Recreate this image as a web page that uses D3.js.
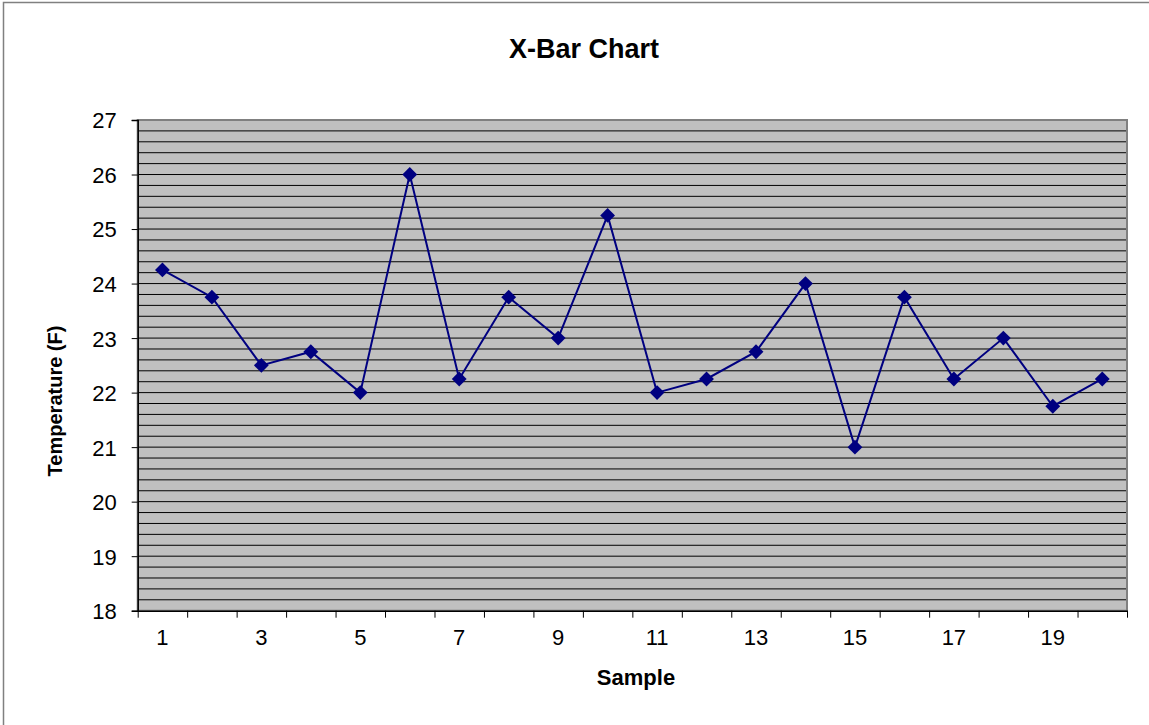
<!DOCTYPE html>
<html>
<head>
<meta charset="utf-8">
<script src="https://cdn.jsdelivr.net/npm/d3@7"></script>
<style>
  body { margin: 0; background: #fff; }
  svg { display: block; font-family: "Liberation Sans", Arial, sans-serif; }
</style>
</head>
<body>
<div id="chart"></div>
<script>
// #region Data
const samples = d3.range(1, 21);
const xbar = [24.25, 23.75, 22.5, 22.75, 22, 26, 22.25, 23.75, 23, 25.25,
  22, 22.25, 22.75, 24, 21, 23.75, 22.25, 23, 21.75, 22.25];
const yTicks = [18, 19, 20, 21, 22, 23, 24, 25, 26, 27];
const xLabels = [1, 3, 5, 7, 9, 11, 13, 15, 17, 19];
// #endregion

const width = 1149;
const height = 725;
const plot = { left: 137.7, right: 1127, top: 120, bottom: 610.7 };

const svg = d3.select('#chart').append('svg')
  .attr('width', width)
  .attr('height', height);

// outer frame (only top/left show inside the window)
svg.append('rect')
  .attr('x', 3.5).attr('y', 2.5)
  .attr('width', width + 20).attr('height', height + 20)
  .attr('fill', '#fff')
  .attr('stroke', '#808080')
  .attr('stroke-width', 1.5);

// #region Scales
const x = d3.scaleBand()
  .domain(samples)
  .range([plot.left, plot.right]);
const xEdge = d3.scaleLinear()
  .domain([0.5, 20.5])
  .range([plot.left, plot.right]);
const y = d3.scaleLinear()
  .domain([18, 27])
  .range([plot.bottom, plot.top]);
// #endregion

// #region Plot area + gridlines
svg.append('rect')
  .attr('x', plot.left).attr('y', plot.top)
  .attr('width', plot.right - plot.left)
  .attr('height', plot.bottom - plot.top)
  .attr('fill', '#c0c0c0');

const gridVals = d3.range(0, 46).map(i => 18 + i * 0.2);
svg.append('g')
  .selectAll('line')
  .data(gridVals.slice(1, -1))
  .enter()
  .append('line')
  .attr('x1', plot.left).attr('x2', plot.right)
  .attr('y1', d => y(d)).attr('y2', d => y(d))
  .attr('stroke', '#000')
  .attr('stroke-width', 1);

svg.append('rect')
  .attr('x', plot.left).attr('y', plot.top)
  .attr('width', plot.right - plot.left)
  .attr('height', plot.bottom - plot.top)
  .attr('fill', 'none')
  .attr('stroke', '#808080')
  .attr('stroke-width', 2);
// #endregion

// #region Axes
const yAxis = svg.append('g')
  .attr('transform', `translate(${plot.left},0)`)
  .call(d3.axisLeft(y).tickValues(yTicks).tickSize(6).tickPadding(15).tickFormat(d3.format('d')));
yAxis.select('.domain').attr('stroke', '#000').attr('stroke-width', 1.5);
yAxis.selectAll('.tick line').attr('stroke', '#000');
yAxis.selectAll('.tick text')
  .attr('font-family', '"Liberation Sans", Arial, sans-serif')
  .attr('font-size', 22)
  .attr('fill', '#000')
  .attr('dy', '0.36em');

const xTickAxis = svg.append('g')
  .attr('transform', `translate(0,${plot.bottom})`)
  .call(d3.axisBottom(xEdge).tickValues(d3.range(0.5, 21, 1)).tickSize(7).tickSizeOuter(0).tickFormat(''));
xTickAxis.select('.domain').attr('stroke', '#000').attr('stroke-width', 1.5);
xTickAxis.selectAll('.tick line').attr('stroke', '#000');

const xAxis = svg.append('g')
  .attr('transform', `translate(0,${plot.bottom})`)
  .call(d3.axisBottom(x).tickValues(xLabels).tickSize(0).tickPadding(19));
xAxis.select('.domain').remove();
xAxis.selectAll('.tick text')
  .attr('font-family', '"Liberation Sans", Arial, sans-serif')
  .attr('font-size', 22)
  .attr('fill', '#000');
// #endregion

// #region Series
const line = d3.line()
  .x((d, i) => x(samples[i]) + x.bandwidth() / 2)
  .y(d => y(d));

svg.append('path')
  .datum(xbar)
  .attr('d', line)
  .attr('fill', 'none')
  .attr('stroke', '#000080')
  .attr('stroke-width', 2);

svg.append('g')
  .selectAll('path')
  .data(xbar)
  .enter()
  .append('path')
  .attr('d', d3.symbol().type(d3.symbolDiamond2).size(140))
  .attr('transform', (d, i) => `translate(${x(samples[i]) + x.bandwidth() / 2},${y(d)})`)
  .attr('fill', '#000080');
// #endregion

// #region Titles
svg.append('text')
  .text('X-Bar Chart')
  .attr('x', 584).attr('y', 57.5)
  .attr('text-anchor', 'middle')
  .attr('font-weight', 'bold')
  .attr('font-size', 27);

svg.append('text')
  .text('Sample')
  .attr('x', 636).attr('y', 685)
  .attr('text-anchor', 'middle')
  .attr('font-weight', 'bold')
  .attr('font-size', 22);

svg.append('text')
  .text('Temperature (F)')
  .attr('transform', 'translate(62,401) rotate(-90)')
  .attr('text-anchor', 'middle')
  .attr('font-weight', 'bold')
  .attr('font-size', 20);
// #endregion
</script>
</body>
</html>
